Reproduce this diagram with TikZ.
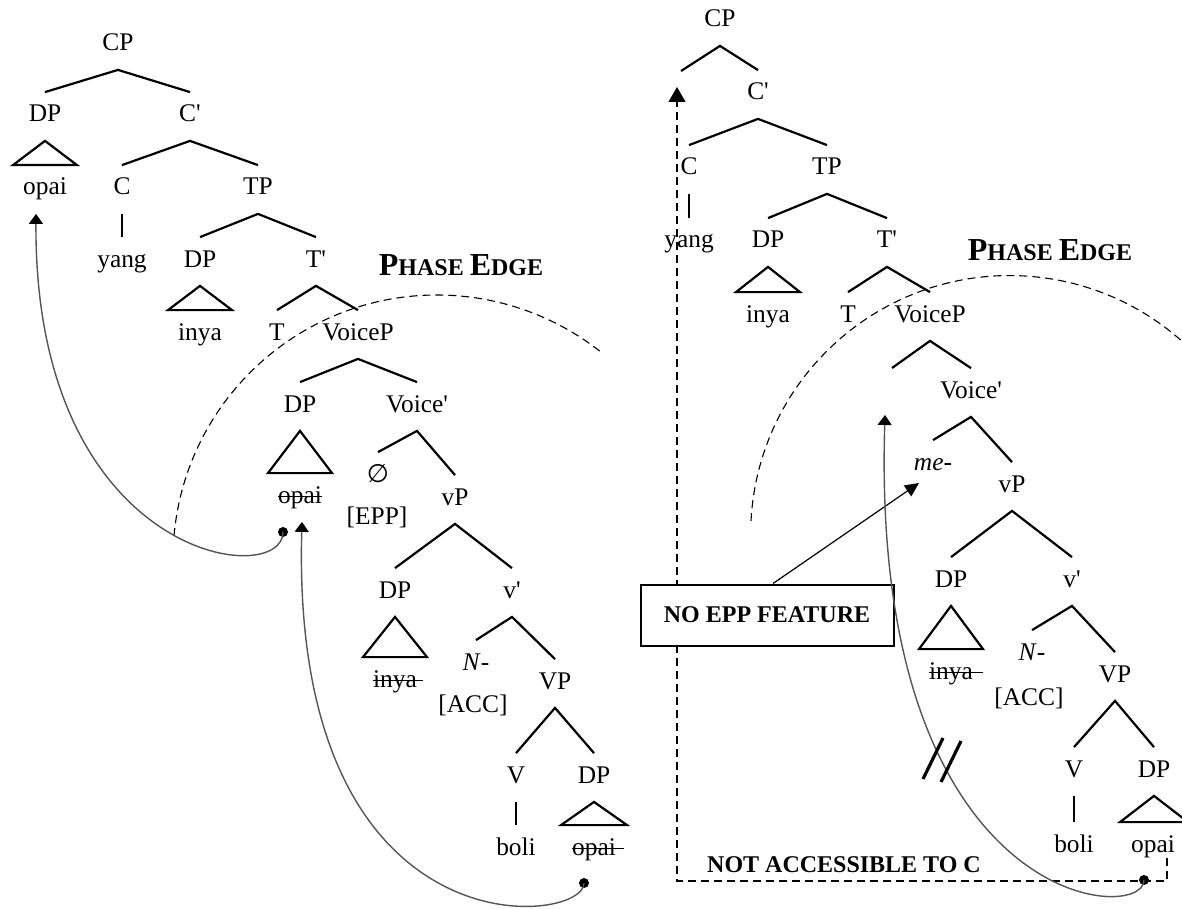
\documentclass[tikz,border=0pt]{standalone}
\usepackage{fontspec}
\setmainfont{Liberation Serif}
\newfontfamily\symbfont{DejaVu Sans}
\usepackage{xcolor}
\definecolor{movegray}{RGB}{85,85,85}
\usepackage{tikz}
\usetikzlibrary{arrows.meta,positioning,calc}

\newlength{\strklen}
\newcommand{\struck}[2][0pt]{\settowidth{\strklen}{#2}\addtolength{\strklen}{#1}\rlap{\rule[0.22em]{\strklen}{0.55pt}}#2}
\newcommand{\prm}{\textquotesingle}
\newcommand{\phaseedge}{{\fontsize{16}{18}\selectfont P}HASE {\fontsize{16}{18}\selectfont E}DGE}
\newcommand{\tri}[3]{\draw[br] (#1.south) -- ($(#2.north -| #1.south)+(-#3,0)$) -- ($(#2.north -| #1.south)+(#3,0)$) -- cycle;}

\begin{document}
\begin{tikzpicture}[x=0.5pt, y=-0.5pt,
    every node/.style={font=\fontsize{12.7}{14}\selectfont},
    lbl/.style={anchor=base, inner xsep=1pt, inner ysep=6.35pt, text height=8.4pt, text depth=2.9pt},
    br/.style={line width=1.1pt},
    bold/.style={anchor=base, font=\fontsize{12}{14}\selectfont\bfseries},
    move/.style={movegray, line width=0.7pt, -{Triangle[length=5pt, width=7pt, black]}},
    phasearc/.style={dash pattern=on 4pt off 2.5pt, line width=0.55pt},
    pointer/.style={line width=0.6pt, -{Triangle[length=7pt, width=6.5pt]}}]
    \useasboundingbox (0,0) rectangle (1182,909);

    % left tree
    \node[lbl] (LCP) at (118,51) {CP};
    \node[lbl] (LDP1) at (45,122) {DP};
    \node[lbl] (LC1) at (190,122) {C\prm};
    \node[lbl] (Lopai) at (45,195) {opai};
    \node[lbl] (LC) at (122,195) {C};
    \node[lbl] (LTP) at (258,195) {TP};
    \node[lbl] (Lyang) at (122,267) {yang};
    \node[lbl] (LDP2) at (200,267) {DP};
    \node[lbl] (LT1) at (316,267) {T\prm};
    \node[lbl] (Linya) at (200,340) {inya};
    \node[lbl] (LT) at (277,340) {T};
    \node[lbl] (LVoiceP) at (358,340) {VoiceP};
    \node[lbl] (LDP3) at (300,412) {DP};
    \node[lbl] (LVoice1) at (417,412) {Voice\prm};
    \node[lbl] (Lnull) at (378,482) {\symbfont ∅};
    \node[lbl] (LopaiS) at (300,503) {\struck{opai}};
    \node[lbl] (LvP) at (455,505) {vP};
    \node[lbl] (Lepp) at (377,524) {[EPP]};
    \node[lbl] (LDP4) at (395,598) {DP};
    \node[lbl] (Lv1) at (512,598) {v\prm};
    \node[lbl] (LinyaS) at (395,687) {\struck[3pt]{inya}};
    \node[lbl] (LN) at (476,670) {\textit{N}-};
    \node[lbl] (LVP) at (555,689) {VP};
    \node[lbl] (Lacc) at (473,712) {[ACC]};
    \node[lbl] (LV) at (516,783) {V};
    \node[lbl] (LDP5) at (594,783) {DP};
    \node[lbl] (Lboli) at (516,855) {boli};
    \node[lbl] (LopaiS2) at (594,855) {\struck[4pt]{opai}};

    \draw[br] (LDP1.north) -- (LCP.south) -- (LC1.north);
    \draw[br] (LC.north) -- (LC1.south) -- (LTP.north);
    \draw[br] (LC.south) -- (Lyang.north);
    \draw[br] (LDP2.north) -- (LTP.south) -- (LT1.north);
    \draw[br] (LT.north) -- (LT1.south) -- (LVoiceP.north);
    \draw[br] (LDP3.north) -- (LVoiceP.south) -- (LVoice1.north);
    \draw[br] (Lnull.north) -- (LVoice1.south) -- (LvP.north);
    \draw[br] (LDP4.north) -- (LvP.south) -- (Lv1.north);
    \draw[br] (LN.north) -- (Lv1.south) -- (LVP.north);
    \draw[br] (LV.north) -- (LVP.south) -- (LDP5.north);
    \draw[br] (LV.south) -- (Lboli.north);
    \tri{LDP1}{Lopai}{32}
    \tri{LDP2}{Linya}{32}
    \tri{LDP3}{LopaiS}{32}
    \tri{LDP4}{LinyaS}{32}
    \tri{LDP5}{LopaiS2}{33}

    \node[bold] (LPhase) at (461,275) {\phaseedge};
    \draw[phasearc] (174,536) arc[start angle=175, end angle=51, radius=132pt];

    % movement
    \coordinate (Ldot1) at (283,532);
    \coordinate (Ldot2) at (584,883);
    \fill (Ldot1) circle (2.5pt);
    \fill (Ldot2) circle (2.5pt);
    \draw[move] (Ldot1) .. controls +(0,58) and +(-2,347) .. ([xshift=-4.5pt]Lopai.south);
    \draw[move] (Ldot2) .. controls +(1,42) and +(-12,437) .. ([xshift=1pt]LopaiS.south);

    % right tree
    \node[lbl] (RCP) at (720,27) {CP};
    \coordinate (RSpecC) at (681,71);
    \node[lbl] (RC1) at (758,100) {C\prm};
    \node[lbl] (RC) at (689,175) {C};
    \node[lbl] (RTP) at (827,175) {TP};
    \node[lbl] (Ryang) at (689,248) {yang};
    \node[lbl] (RDP1) at (768,248) {DP};
    \node[lbl] (RT1) at (887,248) {T\prm};
    \node[lbl] (Rinya) at (768,322) {inya};
    \node[lbl] (RT) at (848,322) {T};
    \node[lbl] (RVoiceP) at (930,322) {VoiceP};
    \coordinate (RSpecV) at (892,368);
    \node[lbl] (RVoice1) at (971,398) {Voice\prm};
    \node[lbl] (Rme) at (933,470) {\textit{me-}};
    \node[lbl] (RvP) at (1012,492) {vP};
    \node[lbl] (RDP2) at (951,587) {DP};
    \node[lbl] (Rv1) at (1072,587) {v\prm};
    \node[lbl] (RinyaS) at (951,679) {\struck[5pt]{inya}};
    \node[lbl] (RN) at (1032,660) {\textit{N}-};
    \node[lbl] (RVP) at (1115,682) {VP};
    \node[lbl] (Racc) at (1029,705) {[ACC]};
    \node[lbl] (RV) at (1074,777) {V};
    \node[lbl] (RDP3) at (1154,777) {DP};
    \node[lbl] (Rboli) at (1074,852) {boli};
    \node[lbl] (Ropai) at (1153,852) {opai};

    \draw[br] (RSpecC) -- (RCP.south) -- (RC1.north);
    \draw[br] (RC.north) -- (RC1.south) -- (RTP.north);
    \draw[br] (RC.south) -- (Ryang.north);
    \draw[br] (RDP1.north) -- (RTP.south) -- (RT1.north);
    \draw[br] (RT.north) -- (RT1.south) -- (RVoiceP.north);
    \draw[br] (RSpecV) -- (RVoiceP.south) -- (RVoice1.north);
    \draw[br] (Rme.north) -- (RVoice1.south) -- (RvP.north);
    \draw[br] (RDP2.north) -- (RvP.south) -- (Rv1.north);
    \draw[br] (RN.north) -- (Rv1.south) -- (RVP.north);
    \draw[br] (RV.north) -- (RVP.south) -- (RDP3.north);
    \draw[br] (RV.south) -- (Rboli.north);
    \tri{RDP1}{Rinya}{32}
    \tri{RDP2}{RinyaS}{32}
    \tri{RDP3}{Ropai}{34}

    \node[bold] (RPhase) at (1050,260) {\phaseedge};
    \draw[phasearc] (751,521) arc[start angle=177, end angle=47, radius=129.5pt];

    % not accessible to C
    \coordinate (Rstart) at (1167,858);
    \coordinate (Rcorner) at (677,881);
    \coordinate (RCtip) at (677,87);
    \draw[phasearc, -{Triangle[length=7.5pt, width=8.5pt]}] (Rstart) |- (Rcorner) -- (RCtip);
    \node[bold] (Rnot) at (844,872) {NOT ACCESSIBLE TO C};

    \node[draw, line width=1pt, fill=white, minimum width=126.5pt, minimum height=30.5pt,
        font=\fontsize{12}{14}\selectfont\bfseries] (Rbox) at (767,615) {NO EPP FEATURE};
    \coordinate (RmeTip) at ([xshift=-7pt, yshift=-6.5pt]Rme.base);
    \draw[pointer] ([xshift=3pt]Rbox.north) -- (RmeTip);

    \coordinate (Rdot) at (1144,880);
    \coordinate (RvTip) at (885,415);
    \fill (Rdot) circle (2.5pt);
    \draw[move] (Rdot) .. controls +(0,45) and +(-15,495) .. (RvTip);
    \draw[line width=1.6pt] (923,779) -- (943,738);
    \draw[line width=1.6pt] (941,782) -- (961,741);
\end{tikzpicture}
\end{document}
